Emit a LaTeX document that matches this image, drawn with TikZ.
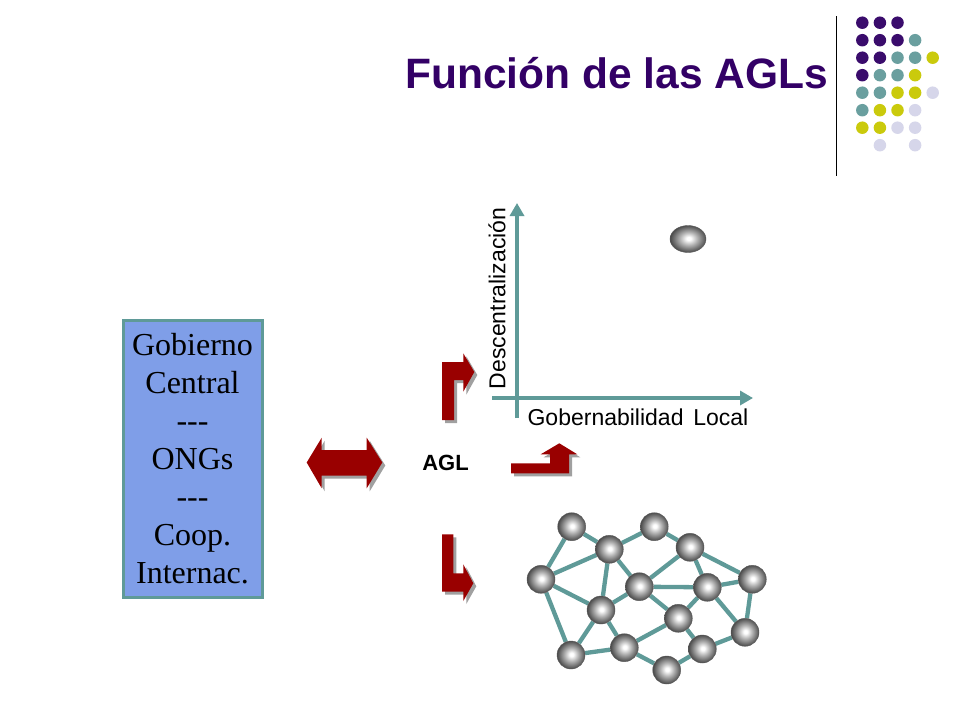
\documentclass[tikz,border=0pt]{standalone}
\usepackage{fontspec}
\setmainfont{Liberation Serif}
\setsansfont{Liberation Sans}
\usetikzlibrary{arrows.meta,backgrounds,shapes.geometric}
\definecolor{titlepurple}{HTML}{330066}
\definecolor{dpurple}{HTML}{3A0C6C}
\definecolor{dteal}{HTML}{6A9F9F}
\definecolor{dyellow}{HTML}{CACA0C}
\definecolor{dlight}{HTML}{D6D6EA}
\definecolor{boxfill}{HTML}{7F9EE8}
\definecolor{boxline}{HTML}{5F9A98}
\definecolor{axisteal}{HTML}{5F9A98}
\definecolor{arrowred}{HTML}{990000}
\definecolor{shadowgray}{HTML}{A0A0A0}
\pgfdeclareradialshading{glossball}{\pgfpoint{1bp}{1bp}}{color(0bp)=(white); color(3bp)=(white);
  color(12bp)=(black!30); color(20bp)=(black!55); color(25bp)=(black!70); color(50bp)=(black!75)}
\begin{document}
\begin{tikzpicture}[x=1pt,y=-1pt,
  ball/.style={circle, minimum size=28pt, inner sep=0pt, shading=glossball,
    draw=black!65, line width=0.4pt},
  edge/.style={draw=axisteal, line width=4.3pt},
  axis/.style={draw=axisteal, line width=4.5pt, -{Triangle[length=13pt,width=14pt]}},
  redarrow/.style={fill=arrowred},
  arrowshadow/.style={fill=shadowgray},
  dot/.style={circle, minimum size=12.5pt, inner sep=0pt}
]
\useasboundingbox (0,0) rectangle (960,720);
\begin{scope}[on background layer]
\fill[white] (0,0) rectangle (960,720);
\end{scope}

% title
\node[anchor=base east, inner sep=0pt, text=titlepurple,
  font={\sffamily\bfseries\fontsize{42.5}{50}\selectfont}] (title) at (828,88) {Función de las AGLs};

% separator line
\coordinate (sepTop) at (836.3,16);
\coordinate (sepBot) at (836.3,176);
\draw[black, line width=1pt] (sepTop) -- (sepBot);

% decorative dots
\foreach \c/\r/\col in {1/1/dpurple,2/1/dpurple,3/1/dpurple,
  1/2/dpurple,2/2/dpurple,3/2/dpurple,4/2/dteal,
  1/3/dpurple,2/3/dpurple,3/3/dteal,4/3/dteal,5/3/dyellow,
  1/4/dpurple,2/4/dteal,3/4/dteal,4/4/dyellow,
  1/5/dteal,2/5/dteal,3/5/dyellow,4/5/dyellow,5/5/dlight,
  1/6/dteal,2/6/dyellow,3/6/dyellow,4/6/dlight,
  1/7/dyellow,2/7/dyellow,3/7/dlight,4/7/dlight,
  2/8/dlight,4/8/dlight}
  \node[dot, fill=\col] (dot\c\r) at ({862.3+17.6*(\c-1)},{22.7+17.5*(\r-1)}) {};

% left box
\node[draw=boxline, line width=3pt, fill=boxfill, minimum width=139pt, minimum height=277pt,
  inner sep=0pt, align=center, font={\fontsize{32}{38}\selectfont}] (box) at (192.5,458.5)
  {Gobierno\\Central\\-{}-{}-\\ONGs\\-{}-{}-\\Coop.\\Internac.};

% double arrow
\foreach \dx/\sty in {3/arrowshadow,0/redarrow}
  \path[\sty, shift={(\dx,\dx)}] (306.7,462.5) -- (321.7,437.7) -- (321.7,450) -- (366.7,450)
    -- (366.7,437.7) -- (382.3,462.5) -- (366.7,488.3) -- (366.7,475.7) -- (321.7,475.7)
    -- (321.7,488.3) -- cycle;

% AGL label
\node[font={\sffamily\bfseries\fontsize{22}{26}\selectfont}, inner sep=0pt] (agl) at (445.5,463) {AGL};

% upper bent arrow
\foreach \dx/\sty in {3/arrowshadow,0/redarrow}
  \path[\sty, shift={(\dx,\dx)}] (442,420) -- (442,362) -- (463.3,362) -- (463.3,353.3)
    -- (474.3,372) -- (463.3,391.7) -- (463.3,380) -- (454,380) -- (454,420) -- cycle;

% middle bent arrow
\foreach \dx/\sty in {3/arrowshadow,0/redarrow}
  \path[\sty, shift={(\dx,\dx)}] (511,463.3) -- (550,463.3) -- (550,454.3) -- (540.7,454.3)
    -- (559.3,443.3) -- (577.3,454.3) -- (569,454.3) -- (569,473.3) -- (511,473.3) -- cycle;

% lower bent arrow
\foreach \dx/\sty in {3/arrowshadow,0/redarrow}
  \path[\sty, shift={(\dx,\dx)}] (442,534.3) -- (453.3,534.3) -- (453.3,573.3) -- (463.3,573.3)
    -- (463.3,564.3) -- (473.3,583.3) -- (463.3,601) -- (463.3,591.7) -- (442,591.7) -- cycle;

% axes
\coordinate (vBot) at (517,418);
\coordinate (vTop) at (517,203);
\coordinate (hLeft) at (492,398);
\coordinate (hRight) at (753,398);
\draw[axis] (vBot) -- (vTop);
\draw[axis] (hLeft) -- (hRight);
\node[rotate=90, inner sep=0pt, font={\sffamily\fontsize{23}{27}\selectfont}] (ylab) at (497,298.5) {Descentralización};
\node[inner sep=0pt, font={\sffamily\fontsize{23}{27}\selectfont}] (xlab) at (638,417) {Gobernabilidad\hspace{0.15em} Local};

% single ball
\node[ellipse, minimum width=36pt, minimum height=27pt, inner sep=0pt, shading=glossball,
  draw=black!65, line width=0.4pt] (ball) at (688,239) {};

% network
\node[ball] (n1) at (571.7,526.7) {};
\node[ball] (n2) at (609.3,549.3) {};
\node[ball] (n3) at (654.3,526.7) {};
\node[ball] (n4) at (690,547.3) {};
\node[ball] (n5) at (541,579.3) {};
\node[ball] (n6) at (639.3,586.7) {};
\node[ball] (n7) at (707.3,587.3) {};
\node[ball] (n8) at (752.3,579.3) {};
\node[ball] (n9) at (601,610) {};
\node[ball] (n10) at (678.3,618.3) {};
\node[ball] (n11) at (745,632.3) {};
\node[ball] (n12) at (571,655) {};
\node[ball] (n13) at (624.3,647.7) {};
\node[ball] (n14) at (702.3,649) {};
\node[ball] (n15) at (666.7,670) {};
\begin{scope}[on background layer]
\foreach \a/\b in {n1/n5,n1/n2,n2/n3,n5/n2,n2/n9,n2/n6,n3/n4,n4/n8,n4/n6,n4/n7,n6/n7,n7/n8,
  n5/n9,n6/n9,n6/n10,n7/n10,n7/n11,n8/n11,n5/n12,n9/n12,n9/n13,n12/n13,n13/n10,n10/n14,
  n14/n11,n13/n15,n15/n14}
  \draw[edge] (\a) -- (\b);
\end{scope}
\end{tikzpicture}
\end{document}
